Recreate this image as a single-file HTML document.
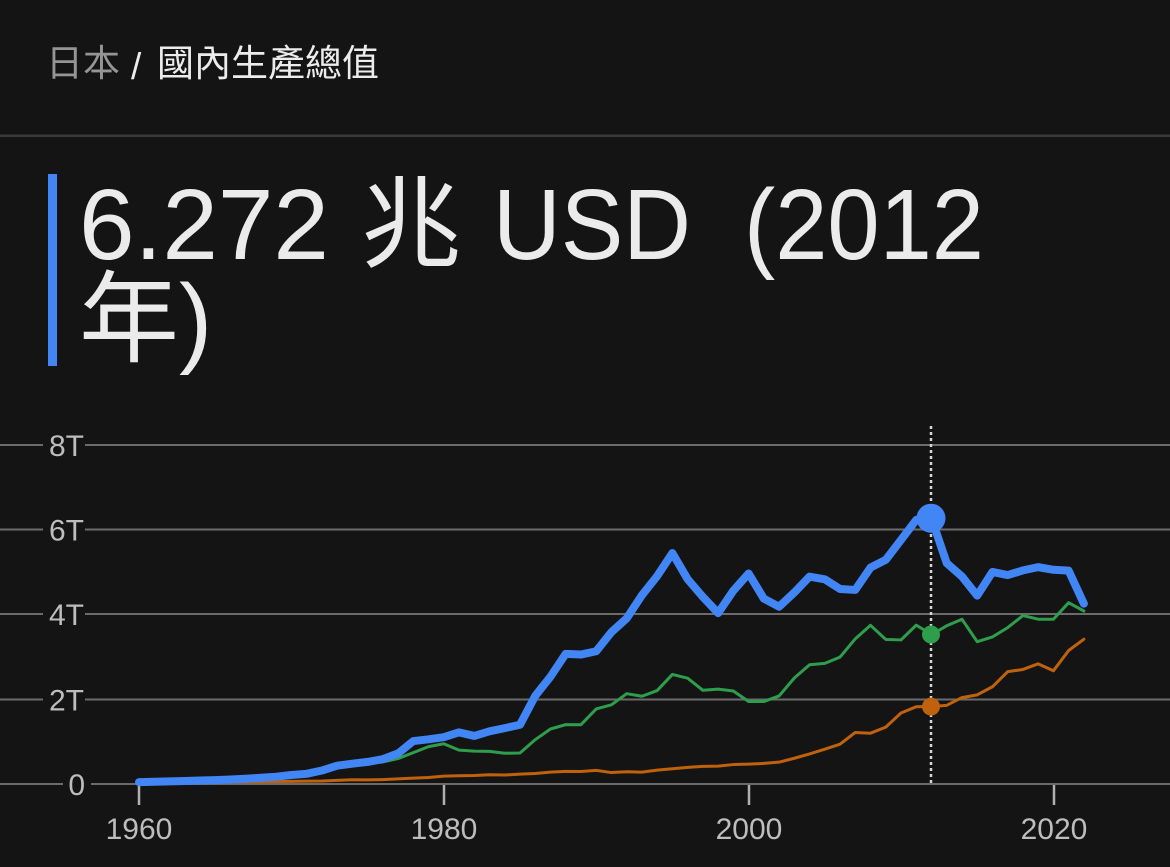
<!DOCTYPE html>
<html>
<head>
<meta charset="utf-8">
<style>
  html,body{margin:0;padding:0;background:#141414;}
  svg{display:block;}
  text{font-family:"Liberation Sans","Noto Sans CJK TC",sans-serif;}
</style>
</head>
<body>
<svg width="1170" height="867" viewBox="0 0 1170 867" xmlns="http://www.w3.org/2000/svg">
  <rect x="0" y="0" width="1170" height="867" fill="#141414"/>

  <!-- breadcrumb -->
  <text x="46" y="76" font-size="37" fill="#959595">日本</text>
  <text x="131" y="79" font-size="37" fill="#ececec">/</text>
  <text x="157" y="76" font-size="37" fill="#ececec">國內生產總值</text>
  <rect x="0" y="134.5" width="1170" height="2.5" fill="#3a3a3a"/>

  <!-- big value -->
  <rect x="48" y="174" width="9" height="192" fill="#4285f4"/>
  <text x="79" y="259" font-size="100" fill="#ebebeb" textLength="250" lengthAdjust="spacingAndGlyphs">6.272</text>
  <text x="361" y="259" font-size="100" fill="#ebebeb">兆</text>
  <text x="493" y="259" font-size="100" fill="#ebebeb" textLength="198" lengthAdjust="spacingAndGlyphs">USD</text>
  <text x="744" y="259" font-size="100" fill="#ebebeb" textLength="240" lengthAdjust="spacingAndGlyphs">(2012</text>
  <text x="79" y="354" font-size="100" fill="#ebebeb">年)</text>

  <!-- gridlines -->
  <g stroke="#6b6b6b" stroke-width="2">
    <line x1="0" y1="445" x2="43" y2="445"/><line x1="85" y1="445" x2="1170" y2="445"/>
    <line x1="0" y1="529.5" x2="43" y2="529.5"/><line x1="85" y1="529.5" x2="1170" y2="529.5"/>
    <line x1="0" y1="614" x2="43" y2="614"/><line x1="85" y1="614" x2="1170" y2="614"/>
    <line x1="0" y1="699.5" x2="43" y2="699.5"/><line x1="85" y1="699.5" x2="1170" y2="699.5"/>
    <line x1="0" y1="784" x2="63" y2="784"/><line x1="91" y1="784" x2="1170" y2="784"/>
  </g>
  <g font-size="30" fill="#bdbdbd" text-anchor="end">
    <text x="84" y="456">8T</text>
    <text x="84" y="540.5">6T</text>
    <text x="84" y="625">4T</text>
    <text x="84" y="710.5">2T</text>
    <text x="85" y="795">0</text>
  </g>

  <!-- x ticks -->
  <g stroke="#b0b0b0" stroke-width="2.5">
    <line x1="139" y1="785" x2="139" y2="805"/>
    <line x1="444" y1="785" x2="444" y2="805"/>
    <line x1="749" y1="785" x2="749" y2="805"/>
    <line x1="1054" y1="785" x2="1054" y2="805"/>
  </g>
  <g font-size="30" fill="#bdbdbd" text-anchor="middle">
    <text x="139" y="839">1960</text>
    <text x="444" y="839">1980</text>
    <text x="749" y="839">2000</text>
    <text x="1054" y="839">2020</text>
  </g>

  <!-- series -->
  <g transform="translate(139,784) scale(15.24,-0.042375)" fill="none" stroke-linejoin="round" stroke-linecap="round">
    <!-- India -->
    <polyline vector-effect="non-scaling-stroke" stroke="#c0620c" stroke-width="3" points="0,37.0 1,39.2 2,42.2 3,48.4 4,56.5 5,59.6 6,45.9 7,50.1 8,53.1 9,58.4 10,62.4 11,67.4 12,71.5 13,85.5 14,99.5 15,98.5 16,102.7 17,121.5 18,137.3 19,153.0 20,186.3 21,193.5 22,200.7 23,218.3 24,212.2 25,232.5 26,249.0 27,279.0 28,296.6 29,296.0 30,321.0 31,270.1 32,288.2 33,279.3 34,327.3 35,360.3 36,392.9 37,415.9 38,421.4 39,458.8 40,468.4 41,485.4 42,514.9 43,607.7 44,709.1 45,820.4 46,940.3 47,1216.7 48,1198.9 49,1341.9 50,1675.6 51,1823.1 52,1827.6 53,1856.7 54,2039.1 55,2103.6 56,2294.8 57,2651.5 58,2702.9 59,2835.6 60,2671.6 61,3150.3 62,3416.6"/>
    <!-- Germany -->
    <polyline vector-effect="non-scaling-stroke" stroke="#2e9e4c" stroke-width="3" points="10,215.8 11,250.0 12,299.8 13,398.4 14,445.3 15,490.6 16,519.8 17,600.5 18,740.5 19,881.3 20,950.3 21,800.5 22,776.6 23,770.7 24,725.1 25,732.5 26,1046.0 27,1298.0 28,1401.2 29,1399.0 30,1771.7 31,1868.9 32,2131.6 33,2071.3 34,2205.1 35,2585.8 36,2497.2 37,2212.0 38,2239.0 39,2194.9 40,1948.0 41,1945.8 42,2078.5 43,2501.6 44,2814.4 45,2846.9 46,2994.7 47,3425.6 48,3745.3 49,3411.3 50,3399.7 51,3749.3 52,3527.3 53,3733.8 54,3889.1 55,3357.6 56,3469.9 57,3690.8 58,3974.4 59,3889.2 60,3887.7 61,4278.5 62,4082.5"/>
    <!-- Japan -->
    <polyline vector-effect="non-scaling-stroke" stroke="#4285f4" stroke-width="8" points="0,44.3 1,53.5 2,60.7 3,69.5 4,81.7 5,91.0 6,105.6 7,123.8 8,146.6 9,172.2 10,212.6 11,240.2 12,318.0 13,432.1 14,479.6 15,521.5 16,586.2 17,721.4 18,1013.6 19,1055.0 20,1105.4 21,1219.0 22,1134.5 23,1243.3 24,1318.4 25,1398.9 26,2078.9 27,2532.8 28,3071.7 29,3054.9 30,3132.8 31,3584.4 32,3908.8 33,4454.1 34,4907.0 35,5449.1 36,4833.7 37,4414.7 38,4032.5 39,4562.1 40,4968.4 41,4374.7 42,4182.8 43,4519.6 44,4893.1 45,4831.5 46,4601.7 47,4579.8 48,5106.7 49,5289.5 50,5759.1 51,6233.1 52,6272.4 53,5212.3 54,4897.0 55,4444.9 56,5003.7 57,4930.8 58,5040.9 59,5118.0 60,5055.6 61,5034.6 62,4256.4"/>
  </g>

  <!-- hover line -->
  <line x1="931" y1="426" x2="931" y2="784" stroke="#d6d6d6" stroke-width="2.5" stroke-dasharray="3 3"/>

  <!-- markers -->
  <circle cx="931" cy="518.2" r="14.5" fill="#4285f4"/>
  <circle cx="931" cy="634.5" r="9" fill="#2e9e4c"/>
  <circle cx="931" cy="706.6" r="9" fill="#c0620c"/>
</svg>
</body>
</html>
